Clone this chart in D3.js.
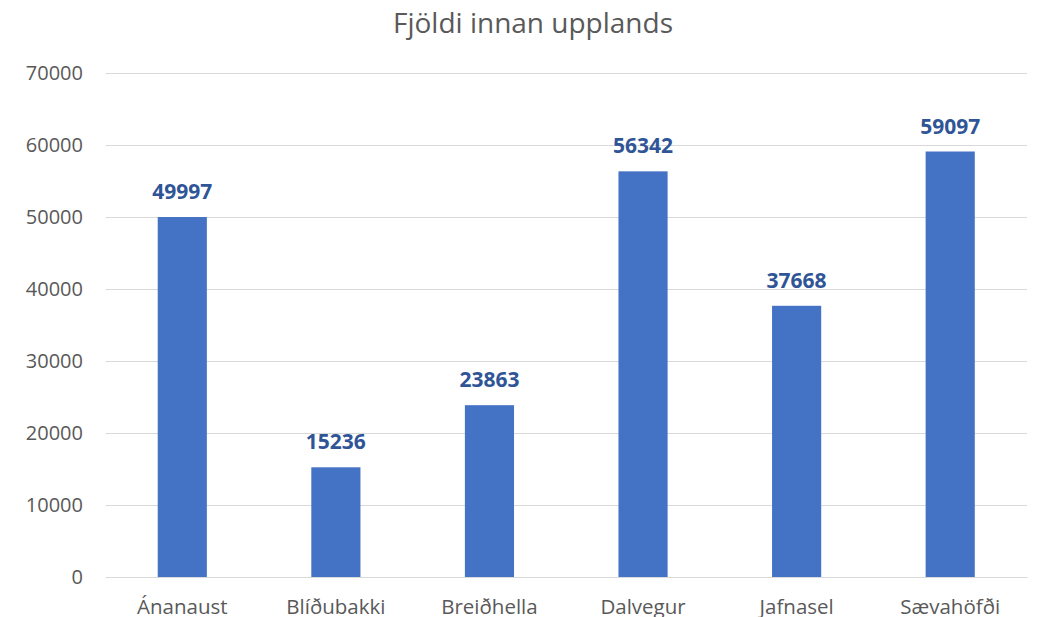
<!DOCTYPE html>
<html><head><meta charset="utf-8">
<script src="https://cdn.jsdelivr.net/npm/d3@7"></script>
<style>body{margin:0;background:#fff;}svg{display:block;}</style>
</head><body>
<svg id="c" width="1041" height="617"></svg>
<script>
const title = "Fjöldi innan upplands";
const categories = ["Ánanaust","Blíðubakki","Breiðhella","Dalvegur","Jafnasel","Sævahöfði"];
const values = [49997,15236,23863,56342,37668,59097];
const yTicks = [0,10000,20000,30000,40000,50000,60000,70000];

(function(){
const svg = d3.select("#c");
const font = "'Open Sans', sans-serif";
const mLeft = 105.5, mRight = 1027, mTop = 73, mBottom = 577;
const x = d3.scaleBand().domain(categories).range([mLeft,mRight]).paddingInner(0.68).paddingOuter(0.34);
const y = d3.scaleLinear().domain([0,70000]).range([mBottom,mTop]);

svg.append("text").attr("x",533).attr("y",33).attr("text-anchor","middle")
  .attr("font-family",font).attr("font-size",28).attr("fill","#595959").text(title);

const ya = svg.append("g").attr("transform",`translate(${mLeft},0)`)
  .call(d3.axisLeft(y).tickValues(yTicks).tickSize(-(mRight-mLeft)).tickPadding(22.5).tickFormat(d3.format("d")));
ya.select(".domain").remove();
ya.selectAll(".tick line").attr("stroke","#d9d9d9").attr("stroke-width",1);
ya.selectAll(".tick text").attr("font-family",font).attr("font-size",20).attr("fill","#595959");

svg.selectAll("rect.bar").data(values).enter().append("rect")
  .attr("x",(d,i)=>x(categories[i])).attr("width",x.bandwidth())
  .attr("y",d=>y(d)).attr("height",d=>mBottom-y(d)).attr("fill","#4472C4");

svg.selectAll("text.lbl").data(values).enter().append("text")
  .attr("x",(d,i)=>x(categories[i])+x.bandwidth()/2).attr("y",d=>y(d)-18)
  .attr("text-anchor","middle").attr("font-family",font).attr("font-weight","bold")
  .attr("font-size",21).attr("fill","#2F5597").text(d=>d);

const xa = svg.append("g").attr("transform",`translate(0,${mBottom})`)
  .call(d3.axisBottom(x).tickSize(0).tickPadding(22.5));
xa.select(".domain").attr("stroke","#d9d9d9");
xa.selectAll(".tick text").attr("font-family",font).attr("font-size",20.5).attr("fill","#595959");
})();
</script>
</body></html>
